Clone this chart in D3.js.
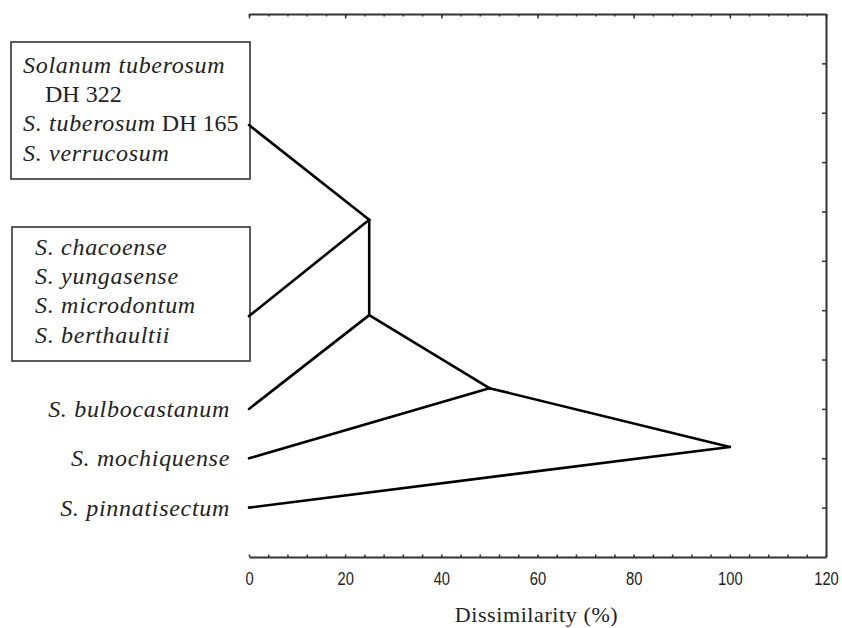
<!DOCTYPE html>
<html>
<head>
<meta charset="utf-8">
<script src="https://cdn.jsdelivr.net/npm/d3@7"></script>
<style>
  body { margin: 0; background: #fff; }
  svg { display: block; }
  .serif { font-family: "Liberation Serif", "DejaVu Serif", serif; fill: #222; letter-spacing: 0.7px; }
</style>
</head>
<body>
<div class="chart"></div>
<script>
// leaves: row on the vertical scale, dissimilarity 0
var leafIds = ['g1', 'g2', 'bulbocastanum', 'mochiquense', 'pinnatisectum'];
var leafRows = [2.25, 6.12, 8, 9, 10];

// internal nodes
var nodeIds = ['n1', 'n2', 'n3', 'n4'];
var nodeDissim = [25, 25, 50, 100];
var nodeRows = [4.17, 6.1, 7.58, 8.77];

var links = [
    ['g1', 'n1'], ['g2', 'n1'], ['n1', 'n2'],
    ['n2', 'bulbocastanum'], ['n2', 'n3'],
    ['n3', 'mochiquense'], ['n3', 'n4'],
    ['n4', 'pinnatisectum']
];

var singleLabels = ['S. bulbocastanum', 'S. mochiquense', 'S. pinnatisectum'];

// boxed groups, each line is a list of [text, italic]
var group1 = [
    [['Solanum tuberosum', true]],
    [['DH 322', false]],
    [['S. tuberosum', true], [' DH 165', false]],
    [['S. verrucosum', true]]
];
var group2 = [
    [['S. chacoense', true]],
    [['S. yungasense', true]],
    [['S. microdontum', true]],
    [['S. berthaultii', true]]
];

var xMajor = [0, 20, 40, 60, 80, 100, 120];
var xMinor = d3.range(0, 121, 4);
var rowTicks = d3.range(1, 11);

draw();

function draw() {
    var width = 842, height = 628;

    var svg = d3.select('.chart')
        .append('svg')
        .attr('width', width)
        .attr('height', height);

    var x = d3.scaleLinear().domain([0, 120]).range([249, 826]);
    var y = d3.scaleLinear().domain([0, 11]).range([14, 557]);

    var pos = {};
    leafIds.forEach(function (id, i) {
        pos[id] = [x(0), y(leafRows[i])];
    });
    nodeIds.forEach(function (id, i) {
        pos[id] = [x(nodeDissim[i]), y(nodeRows[i])];
    });

    // axes
    var axisStyle = function (g) {
        g.select('.domain').attr('stroke', '#333').attr('stroke-width', 2);
        g.selectAll('.tick line').attr('stroke', '#333').attr('stroke-width', 1.5);
    };

    svg.append('g')
        .attr('transform', 'translate(0,' + y(11) + ')')
        .call(d3.axisBottom(x).tickValues(xMinor).tickSizeInner(-2.5).tickSizeOuter(0)
            .tickPadding(15)
            .tickFormat(function (d) { return d % 20 === 0 ? d : ''; }))
        .call(axisStyle)
        .call(function (g) {
            g.attr('font-size', null).attr('font-family', null);
            // condensed look of the original tick font
            g.selectAll('text')
                .attr('fill', '#222')
                .style('font-family', '"Liberation Sans", Arial, sans-serif')
                .style('font-size', '18px')
                .attr('transform', 'scale(0.82,1)');
        });

    svg.append('g')
        .attr('transform', 'translate(0,' + y(0) + ')')
        .call(d3.axisTop(x).tickValues(xMinor).tickSizeInner(-2.5).tickSizeOuter(0).tickFormat(''))
        .call(axisStyle);

    svg.append('g')
        .attr('transform', 'translate(0,' + y(0) + ')')
        .call(d3.axisTop(x).tickValues(xMajor).tickSizeInner(-4.5).tickSizeOuter(0).tickFormat(''))
        .call(axisStyle)
        .call(function (g) { g.select('.domain').remove(); });

    svg.append('g')
        .attr('transform', 'translate(' + x(120) + ',0)')
        .call(d3.axisRight(y).tickValues(rowTicks).tickSizeInner(-4).tickSizeOuter(0).tickFormat(''))
        .call(axisStyle);

    svg.append('text')
        .attr('class', 'serif')
        .attr('x', x(60) - 1)
        .attr('y', 622)
        .attr('text-anchor', 'middle')
        .style('font-size', '22px')
        .style('letter-spacing', '0.6px')
        .text('Dissimilarity (%)');

    // boxes
    var boxes = [
        { lines: group1, x0: 11, y0: 42, y1: 179, tx: 23, ty: 73, indent: [0, 22, 0, 0] },
        { lines: group2, x0: 12, y0: 227, y1: 361, tx: 35, ty: 255, indent: [0, 0, 0, 0] }
    ];

    boxes.forEach(function (b) {
        svg.append('rect')
            .attr('x', b.x0)
            .attr('y', b.y0)
            .attr('width', x(0) + 1 - b.x0)
            .attr('height', b.y1 - b.y0)
            .attr('fill', 'none')
            .attr('stroke', '#333')
            .attr('stroke-width', 1.6);

        b.lines.forEach(function (line, i) {
            var t = svg.append('text')
                .attr('class', 'serif')
                .attr('x', b.tx + b.indent[i])
                .attr('y', b.ty + i * 29.2)
                .style('font-size', '24px');
            line.forEach(function (part) {
                t.append('tspan')
                    .style('font-style', part[1] ? 'italic' : 'normal')
                    .style('letter-spacing', part[1] ? '0.7px' : '0px')
                    .text(part[0]);
            });
        });
    });

    // single labels
    svg.selectAll('.leaf-label')
        .data(singleLabels)
        .enter()
        .append('text')
        .attr('class', 'serif leaf-label')
        .attr('x', 230)
        .attr('y', function (d, i) { return y(leafRows[i + 2]) + 8; })
        .attr('text-anchor', 'end')
        .style('font-size', '24px')
        .style('font-style', 'italic')
        .text(function (d) { return d; });

    // tree
    svg.selectAll('.link')
        .data(links)
        .enter()
        .append('line')
        .attr('class', 'link')
        .attr('x1', function (d) { return pos[d[0]][0]; })
        .attr('y1', function (d) { return pos[d[0]][1]; })
        .attr('x2', function (d) { return pos[d[1]][0]; })
        .attr('y2', function (d) { return pos[d[1]][1]; })
        .attr('stroke', '#000')
        .attr('stroke-width', 2.6)
        .attr('stroke-linecap', 'round');
}
</script>
</body>
</html>
